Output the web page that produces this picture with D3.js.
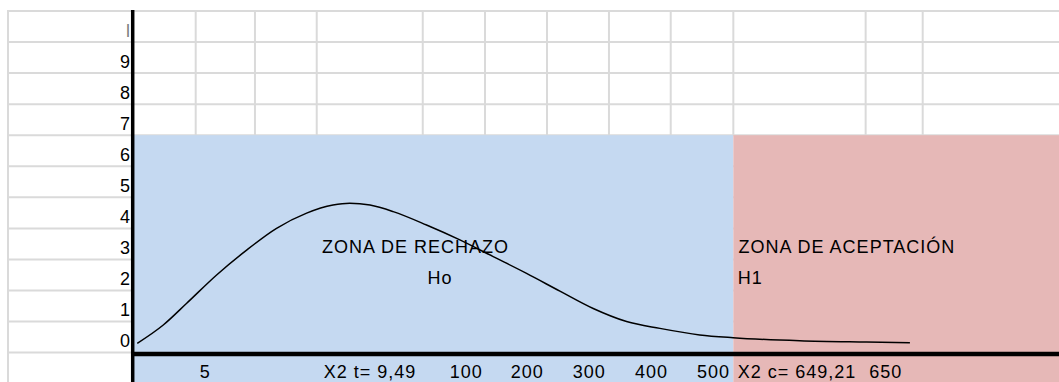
<!DOCTYPE html>
<html>
<head>
<meta charset="utf-8">
<script src="https://cdn.jsdelivr.net/npm/d3@7"></script>
<style>
  html, body { margin: 0; padding: 0; background: #fff; overflow: hidden; }
  svg { display: block; }
  text { font-family: "Liberation Sans", Arial, sans-serif; font-size: 18px; fill: #000; }
</style>
</head>
<body>
<svg id="chart" width="1059" height="382"></svg>
<script>
// Row labels of the vertical axis, bottom to top (one per spreadsheet row)
const yTickLabels = ["0", "1", "2", "3", "4", "5", "6", "7", "8", "9", "l"];

// Labels in the row under the horizontal axis and where each one starts (% of plot width)
const xTickLabels = ["5", "X2 t= 9,49", "100", "200", "300", "400", "500", "X2 c= 649,21", "650"];
const xTickAt     = [7.2, 20.6, 34.2, 40.8, 47.5, 54.2, 60.9, 65.3, 79.5];

// Hand-drawn density curve: x in % of plot width, y in row units
const curveX = [0.46, 3.27, 5.8, 9.03, 12.27, 15.5, 18.75, 21.6, 23.4, 25.6, 28.1, 31.7, 35.3, 38.9, 42.5, 46.1, 49.7, 53.3, 56.9, 61.2, 64.8, 72.0, 79.2, 83.9];
const curveY = [0.30, 0.89, 1.59, 2.50, 3.30, 4.00, 4.49, 4.75, 4.81, 4.75, 4.54, 4.11, 3.63, 3.09, 2.55, 1.98, 1.42, 1.00, 0.78, 0.57, 0.48, 0.38, 0.34, 0.32];

// Shaded zones
const zoneNames   = ["ZONA DE RECHAZO", "ZONA DE ACEPTACIÓN"];
const zoneHyp     = ["Ho", "H1"];
const zoneStart   = [0, 64.83];
const zoneEnd     = [64.83, 100];
const zoneColors  = ["#c5d9f1", "#e6b8b7"];
const zoneNameAt  = [20.4, 65.4];
const zoneHypAt   = [31.8, 65.3];
const zoneTop     = 7;
const zoneBottom  = -1;
const zoneNameRow = 3;
const zoneHypRow  = 2;

// Spreadsheet column edges inside the plot (% of plot width)
const columnEdges = [6.77, 13.17, 19.84, 31.29, 38.01, 44.71, 51.40, 58.07, 64.83, 79.12, 85.28];

// ---- layout ----
const W = 1059, H = 382;
const gridLeft = 8;
const axisX = 132.7;
const svg = d3.select("#chart");

const x = d3.scaleLinear().domain([0, 100]).range([133, W]);
const y = d3.scaleLinear().domain([0, 11]).range([352.6, 11]);

const gridColor = "#dadada";

// sheet gridlines
const grid = svg.append("g");
grid.selectAll("line.h")
  .data(d3.range(0, 12))
  .join("line")
  .attr("x1", gridLeft).attr("x2", W)
  .attr("y1", d => y(d)).attr("y2", d => y(d))
  .attr("stroke", gridColor).attr("stroke-width", 2);
grid.append("line")
  .attr("x1", gridLeft).attr("x2", gridLeft)
  .attr("y1", y(11) - 1).attr("y2", H)
  .attr("stroke", gridColor).attr("stroke-width", 2);
grid.selectAll("line.v")
  .data(columnEdges)
  .join("line")
  .attr("x1", d => x(d)).attr("x2", d => x(d))
  .attr("y1", y(11)).attr("y2", y(zoneTop))
  .attr("stroke", gridColor).attr("stroke-width", 2);

// zones
svg.append("g").selectAll("rect")
  .data(zoneNames.map((n, i) => i))
  .join("rect")
  .attr("x", i => x(zoneStart[i]))
  .attr("width", i => x(zoneEnd[i]) - x(zoneStart[i]))
  .attr("y", y(zoneTop))
  .attr("height", y(zoneBottom) - y(zoneTop))
  .attr("fill", i => zoneColors[i]);

// curve
const pts = curveX.map((v, i) => [v, curveY[i]]);
svg.append("path")
  .datum(pts)
  .attr("fill", "none")
  .attr("stroke", "#000")
  .attr("stroke-width", 1.5)
  .attr("d", d3.line().x(d => x(d[0])).y(d => y(d[1])).curve(d3.curveMonotoneX));

// zone texts
const zt = svg.append("g").attr("letter-spacing", "1px");
zoneNames.forEach((n, i) => {
  zt.append("text").attr("x", x(zoneNameAt[i])).attr("y", y(zoneNameRow) - 6).text(n);
  zt.append("text").attr("x", x(zoneHypAt[i])).attr("y", y(zoneHypRow) - 6).text(zoneHyp[i]);
});

// bottom row labels
svg.append("g").attr("letter-spacing", "1px")
  .selectAll("text")
  .data(xTickLabels)
  .join("text")
  .attr("x", (d, i) => x(xTickAt[i]))
  .attr("y", y(-1) - 5.5)
  .text(d => d);

// row labels
svg.append("g").selectAll("text")
  .data(yTickLabels)
  .join("text")
  .attr("x", 130)
  .attr("y", (d, i) => y(i) - 5.5)
  .attr("text-anchor", "end")
  .style("fill", d => d === "l" ? "#808080" : "#000")
  .text(d => d);

// thick axes
svg.append("line")
  .attr("x1", axisX - 1.7).attr("x2", W)
  .attr("y1", y(0) + 1.4).attr("y2", y(0) + 1.4)
  .attr("stroke", "#000").attr("stroke-width", 4.3);
svg.append("line")
  .attr("x1", axisX).attr("x2", axisX)
  .attr("y1", y(11) - 1).attr("y2", H)
  .attr("stroke", "#000").attr("stroke-width", 3.5);
</script>
</body>
</html>
